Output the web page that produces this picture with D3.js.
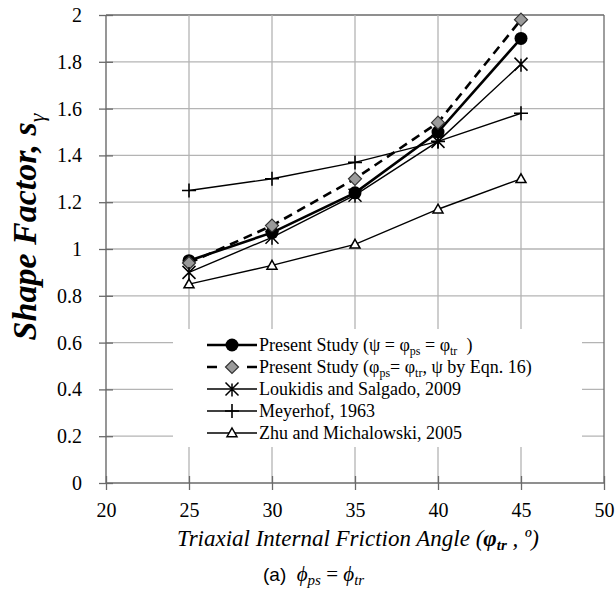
<!DOCTYPE html>
<html>
<head>
<meta charset="utf-8">
<script src="https://cdn.jsdelivr.net/npm/d3@7"></script>
<style>
  html, body { margin: 0; padding: 0; background: #fff; }
  svg { display: block; }
</style>
</head>
<body>
<svg id="chart" width="616" height="594"></svg>
<script>
// Friction angle (degrees) at which each shape factor was computed
const angles = [25, 30, 35, 40, 45];

// Shape factor s_gamma for each method
const presentStudy      = [0.95, 1.07, 1.24, 1.50, 1.90];
const presentStudyEqn16 = [0.94, 1.10, 1.30, 1.54, 1.98];
const loukidisSalgado   = [0.90, 1.05, 1.23, 1.46, 1.79];
const meyerhof          = [1.25, 1.30, 1.37, 1.46, 1.58];
const zhuMichalowski    = [0.85, 0.93, 1.02, 1.17, 1.30];

// Axis ticks
const xTicks = [20, 25, 30, 35, 40, 45, 50];
const yTicks = [0, 0.2, 0.4, 0.6, 0.8, 1, 1.2, 1.4, 1.6, 1.8, 2];

const SERIF = "Liberation Serif";
const SANS = "Liberation Sans";

const svg = d3.select("#chart");
const plotLeft = 106, plotRight = 604, plotTop = 15, plotBottom = 483;

const x = d3.scaleLinear().domain([20, 50]).range([plotLeft, plotRight]);
const y = d3.scaleLinear().domain([0, 2]).range([plotBottom, plotTop]);

const gridColor = "#b4b4b4";
const axisColor = "#6a6a6a";

// Grid lines (top and right edges drawn as a darker frame)
const grid = svg.append("g");
grid.selectAll("line.h").data(yTicks.slice(1)).join("line")
  .attr("x1", plotLeft).attr("x2", plotRight)
  .attr("y1", d => y(d)).attr("y2", d => y(d))
  .attr("stroke", d => d === 2 ? axisColor : gridColor).attr("stroke-width", 1.3);
grid.selectAll("line.v").data(xTicks.slice(1)).join("line")
  .attr("y1", plotTop).attr("y2", plotBottom)
  .attr("x1", d => x(d)).attr("x2", d => x(d))
  .attr("stroke", d => d === 50 ? axisColor : gridColor).attr("stroke-width", 1.3);

// Axes with ticks crossing the axis line
const fmt = d => String(+d.toFixed(1));
const yAxis = svg.append("g").attr("transform", `translate(${plotLeft},0)`)
  .call(d3.axisLeft(y).tickValues(yTicks).tickSize(7).tickPadding(17).tickFormat(fmt));
yAxis.selectAll(".tick line").attr("x1", 7);
const xAxis = svg.append("g").attr("transform", `translate(0,${plotBottom})`)
  .call(d3.axisBottom(x).tickValues(xTicks).tickSize(7).tickPadding(13).tickFormat(fmt));
xAxis.selectAll(".tick line").attr("y1", -7);
[yAxis, xAxis].forEach(g => {
  g.attr("font-family", SERIF).attr("font-size", 20);
  g.select(".domain").attr("stroke", axisColor).attr("stroke-width", 1.4);
  g.selectAll(".tick line").attr("stroke", axisColor).attr("stroke-width", 1.3);
  g.selectAll(".tick text").attr("fill", "#000");
});
xAxis.select(".domain").attr("d", `M${plotLeft},0H${plotRight}`);
yAxis.select(".domain").attr("d", `M0,${plotBottom}V${plotTop}`);

// Marker shapes
function drawMarker(g, kind, cx, cy) {
  if (kind === "circle") {
    g.append("circle").attr("cx", cx).attr("cy", cy).attr("r", 6.5).attr("fill", "#000");
  } else if (kind === "diamond") {
    const s = 6.5;
    g.append("path").attr("d", `M${cx},${cy - s}L${cx + s},${cy}L${cx},${cy + s}L${cx - s},${cy}Z`)
      .attr("fill", "#9a9a9a").attr("stroke", "#333").attr("stroke-width", 1.2);
  } else if (kind === "asterisk") {
    const s = 6.5;
    g.append("path")
      .attr("d", `M${cx - s},${cy - s}L${cx + s},${cy + s}M${cx - s},${cy + s}L${cx + s},${cy - s}M${cx},${cy - s + 1}V${cy + s + 1}`)
      .attr("stroke", "#000").attr("stroke-width", 1.5).attr("fill", "none");
  } else if (kind === "plus") {
    const s = 7;
    g.append("path").attr("d", `M${cx - s},${cy}H${cx + s}M${cx},${cy - s}V${cy + s}`)
      .attr("stroke", "#000").attr("stroke-width", 1.6).attr("fill", "none");
  } else if (kind === "triangle") {
    const s = 5;
    g.append("path").attr("d", `M${cx},${cy - s}L${cx + s},${cy + s * 0.75}L${cx - s},${cy + s * 0.75}Z`)
      .attr("fill", "#fff").attr("stroke", "#000").attr("stroke-width", 1.5);
  }
}

const seriesList = [
  { name: "present", values: presentStudy, marker: "circle", width: 2.6, dash: null },
  { name: "eqn16", values: presentStudyEqn16, marker: "diamond", width: 2.6, dash: "9,6" },
  { name: "loukidis", values: loukidisSalgado, marker: "asterisk", width: 1.4, dash: null },
  { name: "meyerhof", values: meyerhof, marker: "plus", width: 1.4, dash: null },
  { name: "zhu", values: zhuMichalowski, marker: "triangle", width: 1.4, dash: null }
];

const line = d3.line().x(d => x(d[0])).y(d => y(d[1]));
const plot = svg.append("g");
seriesList.forEach(s => {
  const pts = angles.map((a, i) => [a, s.values[i]]);
  const g = plot.append("g");
  g.append("path").attr("d", line(pts)).attr("fill", "none")
    .attr("stroke", "#000").attr("stroke-width", s.width)
    .attr("stroke-dasharray", s.dash);
  pts.forEach(p => drawMarker(g, s.marker, x(p[0]), y(p[1])));
});

// Legend
const legend = svg.append("g");
legend.append("rect").attr("x", 173).attr("y", 329).attr("width", 409).attr("height", 118).attr("fill", "#fff");
const legendRows = [
  { s: seriesList[0], parts: [["Present Study (ψ = φ"], ["ps", "sub"], [" = φ"], ["tr", "sub"], ["  )"]] },
  { s: seriesList[1], parts: [["Present Study (φ"], ["ps", "sub"], ["= φ"], ["tr", "sub"], [", ψ by Eqn. 16)"]] },
  { s: seriesList[2], parts: [["Loukidis and Salgado, 2009"]] },
  { s: seriesList[3], parts: [["Meyerhof, 1963"]] },
  { s: seriesList[4], parts: [["Zhu and Michalowski, 2005"]] }
];
legendRows.forEach((row, i) => {
  const ly = 345 + i * 22;
  const g = legend.append("g");
  g.append("line").attr("x1", 207).attr("x2", 257).attr("y1", ly).attr("y2", ly)
    .attr("stroke", "#000").attr("stroke-width", row.s.width)
    .attr("stroke-dasharray", row.s.dash ? "10,30,10" : null);
  drawMarker(g, row.s.marker, 232, ly);
  const t = g.append("text").attr("x", 259).attr("y", ly + 6)
    .attr("font-family", SERIF).attr("font-size", 18)
    .style("white-space", "pre");
  let shifted = false;
  row.parts.forEach(([txt, kind]) => {
    const sp = t.append("tspan").text(txt);
    if (kind === "sub") { sp.attr("font-size", 12).attr("dy", shifted ? 0 : 4); shifted = true; }
    else if (shifted) { sp.attr("dy", -4); shifted = false; }
  });
});

// Axis titles
const yTitle = svg.append("text")
  .attr("transform", `translate(36,227) rotate(-90)`)
  .attr("text-anchor", "middle")
  .attr("font-family", SERIF).attr("font-size", 34)
  .attr("font-weight", "bold").attr("font-style", "italic");
yTitle.append("tspan").text("Shape Factor, s");
yTitle.append("tspan").text("γ").attr("font-size", 22).attr("dy", 8).attr("font-weight", "normal");

const xTitle = svg.append("text").attr("x", 358).attr("y", 546)
  .attr("text-anchor", "middle")
  .attr("font-family", SERIF).attr("font-size", 23).attr("font-style", "italic");
xTitle.append("tspan").text("Triaxial Internal Friction Angle (");
xTitle.append("tspan").text("φ").attr("font-weight", "bold");
xTitle.append("tspan").text("tr").attr("font-weight", "bold").attr("font-size", 15).attr("dy", 4);
xTitle.append("tspan").text(" , º)").attr("dy", -4);

// Caption
const cap = svg.append("text").attr("x", 263).attr("y", 581)
  .attr("font-family", SERIF).attr("font-size", 21)
  .style("white-space", "pre");
cap.append("tspan").text("(a)").attr("font-family", SANS).attr("font-size", 19);
cap.append("tspan").text("  ϕ").attr("font-style", "italic");
cap.append("tspan").text("ps").attr("font-style", "italic").attr("font-size", 15).attr("dy", 4);
cap.append("tspan").text(" = ").attr("dy", -4);
cap.append("tspan").text("ϕ").attr("font-style", "italic");
cap.append("tspan").text("tr").attr("font-style", "italic").attr("font-size", 15).attr("dy", 4);
</script>
</body>
</html>
